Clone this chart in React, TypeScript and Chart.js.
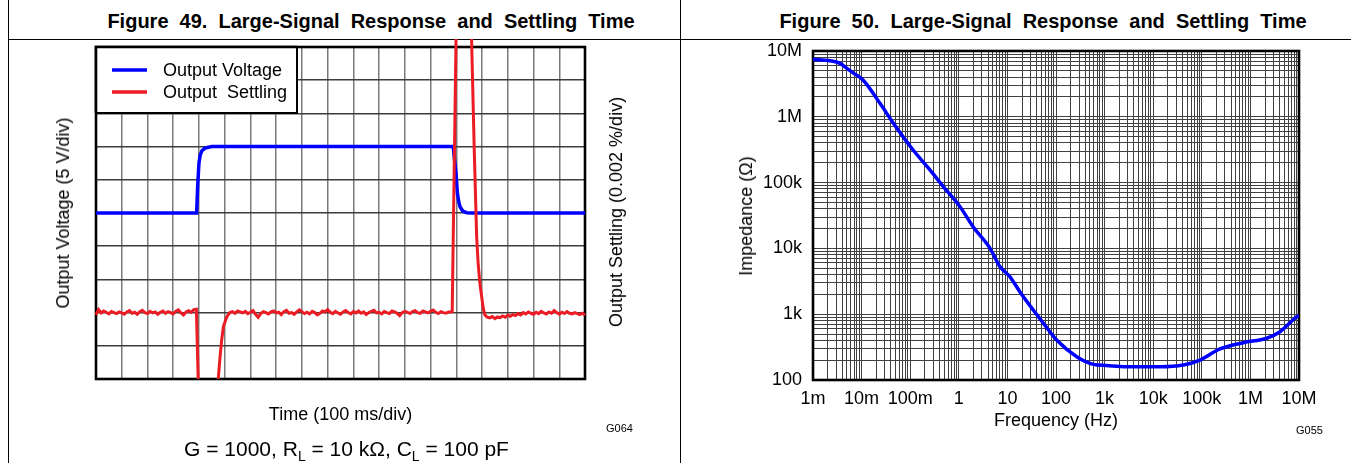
import React, { useEffect, useRef } from 'react';
import { Chart, registerables } from 'chart.js';

Chart.register(...registerables);

const FONT = '"Liberation Sans", Arial, Helvetica, sans-serif';
Chart.defaults.font.family = FONT;

// ---------------- Figure 49 data (time in ms, levels in screen divisions) ----------------
const TIME_DIV_MS = 100;
const TIME_DIVS = 19;
const LEVEL_DIVS = 10;
const SAMPLE_MS = 10;

const voltageTimeMs = [0, 391, 395, 400, 405, 412, 425, 450, 1388, 1393, 1399, 1404, 1410, 1415, 1425, 1440, 1460, 1900];
const voltageDiv = [5, 5, 5.8, 6.5, 6.75, 6.88, 6.96, 7, 7, 6.6, 6.2, 5.6, 5.32, 5.18, 5.06, 5.01, 5, 5];

const settleNoiseAStartMs = 0;
const settleNoiseA = [
  1.93, 2.09, 1.99, 2.05, 2.01, 1.96, 2.03, 2.0, 1.97, 2.02,
  1.99, 1.95, 2.02, 2.06, 1.98, 2.01, 1.95, 2.03, 2.07, 2.0,
  1.97, 2.04, 1.99, 2.02, 1.95, 2.01, 2.05, 1.98, 2.03, 2.0,
  1.96, 2.04, 2.08, 1.99, 1.93, 2.02, 2.06, 2.01, 2.09, 2.1,
];
const settlePlungeTimeMs = [397, 400, 470, 475, 482, 488, 495, 508];
const settlePlungeDiv = [0, -1.5, -1.5, 0, 0.67, 1.15, 1.58, 1.87];

const settleNoiseBStartMs = 520;
const settleNoiseB = [
  2.0, 2.03, 1.98, 2.05, 2.02, 1.99, 2.04, 1.97, 2.01, 2.06,
  1.95, 1.86, 1.97, 2.03, 2.0, 1.96, 2.02, 2.05, 1.99, 2.01,
  1.94, 2.03, 2.07, 1.98, 2.0, 1.95, 2.02, 2.08, 2.03, 1.97,
  2.01, 1.96, 2.04, 2.0, 1.93, 1.98, 2.05, 2.02, 2.09, 2.01,
  1.97, 2.04, 1.99, 1.95, 2.02, 2.06, 2.0, 1.96, 2.03, 1.99,
  2.05, 1.98, 2.02, 1.94, 2.0, 2.04, 2.07, 1.99, 2.01, 1.96,
  2.03, 2.0, 1.97, 2.05, 2.02, 1.98, 1.91, 2.0, 2.04, 2.01,
  1.97, 2.03, 2.06, 2.0, 1.98, 2.05, 2.02, 1.99, 2.04, 2.08,
  2.01, 1.97, 2.03, 2.0, 1.98, 2.02, 2.02,
];
const settleSpikeTimeMs = [1384, 1403, 1456, 1460, 1470, 1479, 1485, 1492, 1499, 1505, 1511, 1520];
const settleSpikeDiv = [2.03, 12.5, 12.5, 10, 6.8, 4.3, 3.45, 2.85, 2.45, 2.12, 1.93, 1.86];

const settleNoiseCStartMs = 1530;
const settleNoiseC = [
  1.84, 1.88, 1.82, 1.87, 1.85, 1.9, 1.86, 1.92, 1.89, 1.94,
  1.91, 1.97, 1.93, 2.0, 1.96, 2.02, 1.98, 1.95, 2.01, 1.97,
  2.04, 1.99, 1.96, 2.02, 1.98, 2.06, 2.0, 1.95, 2.01, 1.97,
  2.03, 1.98, 1.96, 2.0, 1.97, 1.94, 1.98, 1.93,
];

// ---------------- Figure 50 data ----------------
const freqHz = [
  0.001, 0.00224, 0.0036, 0.0049, 0.0068, 0.0108, 0.0239, 0.045, 0.116, 0.255,
  0.48, 1.06, 2.0, 4.4, 7.0, 11.3, 18, 55, 103, 267,
  585, 1100, 2800, 13800, 41700, 92000, 237000, 715000, 2160000, 4070000,
  8670000, 10000000,
];
const impedanceOhm = [
  7.5e6, 7.1e6, 6.5e6, 5.5e6, 4.6e6, 3.6e6, 1.6e6, 8.0e5, 3.1e5, 1.56e5,
  8.7e4, 4.3e4, 2.1e4, 1.0e4, 5.3e3, 3.7e3, 2.2e3, 730, 405, 226,
  173, 166, 159, 159, 169, 201, 296, 369, 431, 542,
  897, 960,
];
const freqDecades = [1e-3, 1e-2, 1e-1, 1, 10, 100, 1e3, 1e4, 1e5, 1e6, 1e7];
const freqTickLabels = ['1m', '10m', '100m', '1', '10', '100', '1k', '10k', '100k', '1M', '10M'];
const impDecades = [100, 1e3, 1e4, 1e5, 1e6, 1e7];
const impTickLabels = ['100', '1k', '10k', '100k', '1M', '10M'];

// ---------------- helpers ----------------
function noisePoints(startMs: number, values: number[]) {
  return values.map((v, i) => ({ x: startMs + i * SAMPLE_MS, y: v }));
}
function pairPoints(xs: number[], ys: number[]) {
  return xs.map((x, i) => ({ x, y: ys[i] }));
}
function logGrid(decades: number[]) {
  const out: number[] = [];
  for (let i = 0; i < decades.length - 1; i++) {
    for (let m = 1; m <= 9; m++) out.push(decades[i] * m);
  }
  out.push(decades[decades.length - 1]);
  return out;
}
function decadeLabel(decades: number[], labels: string[], v: number) {
  const i = decades.findIndex((d) => Math.abs(d - v) / d < 1e-6);
  return i >= 0 ? labels[i] : '';
}
function fixSize(prop: 'width' | 'height', size: number) {
  return (s: any) => {
    s[prop] = size;
    s.paddingTop = 0;
    s.paddingBottom = 0;
    s.paddingLeft = 0;
    s.paddingRight = 0;
  };
}

const framePlugin = {
  id: 'frame',
  beforeDatasetsDraw(chart: any) {
    const { ctx, chartArea: a } = chart;
    ctx.save();
    ctx.strokeStyle = '#000';
    ctx.lineWidth = 2.6;
    ctx.strokeRect(a.left, a.top, a.right - a.left, a.bottom - a.top);
    ctx.restore();
  },
};

const boxLegendPlugin = {
  id: 'boxLegend',
  afterDatasetsDraw(chart: any) {
    const { ctx, chartArea: a } = chart;
    const x0 = a.left;
    const y0 = a.top;
    const w = 201;
    const h = 66;
    ctx.save();
    ctx.fillStyle = '#fff';
    ctx.fillRect(x0, y0, w, h);
    ctx.strokeStyle = '#000';
    ctx.lineWidth = 2;
    ctx.strokeRect(x0, y0, w, h);
    ctx.lineWidth = 2.6;
    ctx.beginPath();
    ctx.moveTo(x0, y0 + h);
    ctx.lineTo(x0, y0);
    ctx.lineTo(x0 + w, y0);
    ctx.stroke();
    chart.data.datasets.forEach((ds: any, i: number) => {
      const y = y0 + 23 + i * 22;
      ctx.strokeStyle = ds.borderColor;
      ctx.lineWidth = 3.5;
      ctx.beginPath();
      ctx.moveTo(x0 + 16, y);
      ctx.lineTo(x0 + 51, y);
      ctx.stroke();
      ctx.fillStyle = '#000';
      ctx.font = `18px ${FONT}`;
      ctx.textBaseline = 'middle';
      ctx.textAlign = 'left';
      ctx.fillText(ds.label, x0 + 67, y + 1);
    });
    ctx.restore();
  },
};

function Txt(props: { x: number; y: number; size: number; bold?: boolean; rotate?: number; spacing?: number; children: any }) {
  const { x, y, size, bold, rotate, spacing, children } = props;
  return (
    <div
      style={{
        position: 'absolute',
        left: x,
        top: y,
        transform: `translate(-50%, -50%)${rotate ? ` rotate(${rotate}deg)` : ''}`,
        fontSize: size,
        fontWeight: bold ? 700 : 400,
        lineHeight: 1,
        whiteSpace: 'nowrap',
        fontFamily: FONT,
        color: '#000',
        wordSpacing: spacing ? `${spacing}px` : undefined,
      }}
    >
      {children}
    </div>
  );
}

function Fig49() {
  const ref = useRef<HTMLCanvasElement | null>(null);
  useEffect(() => {
    if (!ref.current) return;
    const voltagePts = pairPoints(voltageTimeMs, voltageDiv);
    const settlePts = [
      ...noisePoints(settleNoiseAStartMs, settleNoiseA),
      ...pairPoints(settlePlungeTimeMs, settlePlungeDiv),
      ...noisePoints(settleNoiseBStartMs, settleNoiseB),
      ...pairPoints(settleSpikeTimeMs, settleSpikeDiv),
      ...noisePoints(settleNoiseCStartMs, settleNoiseC),
    ];
    const timeGrid: number[] = [];
    for (let i = 0; i <= TIME_DIVS; i++) timeGrid.push(i * TIME_DIV_MS);
    const levelGrid: number[] = [];
    for (let i = 0; i <= LEVEL_DIVS; i++) levelGrid.push(i);
    const clip = { left: 3, top: 8, right: 3, bottom: 0 };
    const chart = new Chart(ref.current, {
      type: 'line',
      data: {
        datasets: [
          { label: 'Output Voltage', data: voltagePts, borderColor: '#0000ff', borderWidth: 3.5, pointRadius: 0, tension: 0, order: 1, clip } as any,
          { label: 'Output  Settling', data: settlePts, borderColor: '#ed1c24', borderWidth: 3, pointRadius: 0, tension: 0, order: 0, clip } as any,
        ],
      },
      options: {
        responsive: false,
        animation: false,
        devicePixelRatio: 1,
        layout: { padding: { left: 96, right: 95, top: 8, bottom: 84 } },
        plugins: { legend: { display: false }, tooltip: { enabled: false }, title: { display: false } },
        scales: {
          x: {
            type: 'linear',
            min: 0,
            max: TIME_DIVS * TIME_DIV_MS,
            afterBuildTicks: (s: any) => { s.ticks = timeGrid.map((v) => ({ value: v })); },
            afterFit: fixSize('height', 0),
            ticks: { display: false },
            grid: { color: '#7a7a7a', lineWidth: 1.5, drawTicks: false },
            border: { display: false },
          },
          y: {
            type: 'linear',
            min: 0,
            max: LEVEL_DIVS,
            afterBuildTicks: (s: any) => { s.ticks = levelGrid.map((v) => ({ value: v })); },
            afterFit: fixSize('width', 0),
            ticks: { display: false },
            grid: { color: '#3c3c3c', lineWidth: 1.5, drawTicks: false },
            border: { display: false },
          },
        },
      } as any,
      plugins: [framePlugin, boxLegendPlugin],
    });
    return () => chart.destroy();
  }, []);
  return <canvas ref={ref} width={680} height={424} style={{ position: 'absolute', left: 0, top: 39, width: 680, height: 424 }} />;
}

function Fig50() {
  const ref = useRef<HTMLCanvasElement | null>(null);
  useEffect(() => {
    if (!ref.current) return;
    const xGrid = logGrid(freqDecades);
    const yGrid = logGrid(impDecades);
    const chart = new Chart(ref.current, {
      type: 'line',
      data: {
        datasets: [
          {
            label: 'Impedance',
            data: pairPoints(freqHz, impedanceOhm),
            borderColor: '#0000ff',
            borderWidth: 3.5,
            pointRadius: 0,
            cubicInterpolationMode: 'monotone',
          } as any,
        ],
      },
      options: {
        responsive: false,
        animation: false,
        devicePixelRatio: 1,
        layout: { padding: { left: 63, right: 52, top: 12, bottom: 38 } },
        plugins: { legend: { display: false }, tooltip: { enabled: false }, title: { display: false } },
        scales: {
          x: {
            type: 'logarithmic',
            min: freqDecades[0],
            max: freqDecades[freqDecades.length - 1],
            afterBuildTicks: (s: any) => { s.ticks = xGrid.map((v) => ({ value: v })); },
            afterFit: fixSize('height', 45),
            ticks: {
              autoSkip: false,
              maxRotation: 0,
              minRotation: 0,
              padding: 8,
              color: '#000',
              font: { family: FONT, size: 18 },
              callback: (v: any) => decadeLabel(freqDecades, freqTickLabels, Number(v)),
            },
            grid: { color: '#404040', lineWidth: 1, drawTicks: false },
            border: { display: false },
          },
          y: {
            type: 'logarithmic',
            min: impDecades[0],
            max: impDecades[impDecades.length - 1],
            afterBuildTicks: (s: any) => { s.ticks = yGrid.map((v) => ({ value: v })); },
            afterFit: fixSize('width', 70),
            ticks: {
              autoSkip: false,
              padding: 11,
              color: '#000',
              font: { family: FONT, size: 18 },
              callback: (v: any) => decadeLabel(impDecades, impTickLabels, Number(v)),
            },
            grid: { color: '#404040', lineWidth: 1, drawTicks: false },
            border: { display: false },
          },
        },
      } as any,
      plugins: [framePlugin],
    });
    return () => chart.destroy();
  }, []);
  return <canvas ref={ref} width={671} height={424} style={{ position: 'absolute', left: 680, top: 39, width: 671, height: 424 }} />;
}

export default function App() {
  return (
    <div style={{ position: 'absolute', left: 0, top: 0, width: 1351, height: 463, background: '#fff', overflow: 'hidden', fontFamily: FONT }}>
      {/* table lines */}
      <div style={{ position: 'absolute', left: 8, top: 0, width: 1, height: 463, background: '#000' }} />
      <div style={{ position: 'absolute', left: 680, top: 0, width: 1, height: 463, background: '#000' }} />
      <div style={{ position: 'absolute', left: 8, top: 39, width: 1343, height: 1, background: '#000' }} />

      <Txt x={371} y={20.5} size={20} bold spacing={5.5}>Figure 49. Large-Signal Response and Settling Time</Txt>
      <Txt x={1043} y={20.5} size={20} bold spacing={5.5}>Figure 50. Large-Signal Response and Settling Time</Txt>

      <Fig49 />
      <Fig50 />

      <Txt x={63} y={212.5} size={18} rotate={-90}>Output Voltage (5 V/div)</Txt>
      <Txt x={615.5} y={211.5} size={18} rotate={-90}>Output Settling (0.002 %/div)</Txt>
      <Txt x={340.5} y={413.5} size={18}>Time (100 ms/div)</Txt>
      <Txt x={346.5} y={448} size={21}>
        G = 1000, R<span style={{ fontSize: 14, position: 'relative', top: 5 }}>L</span> = 10 kΩ, C<span style={{ fontSize: 14, position: 'relative', top: 5 }}>L</span> = 100 pF
      </Txt>
      <Txt x={619.5} y={428} size={11}>G064</Txt>

      <Txt x={746} y={215.5} size={18} rotate={-90}>Impedance (Ω)</Txt>
      <Txt x={1056} y={420.3} size={18}>Frequency (Hz)</Txt>
      <Txt x={1309.5} y={429.5} size={11}>G055</Txt>
    </div>
  );
}
